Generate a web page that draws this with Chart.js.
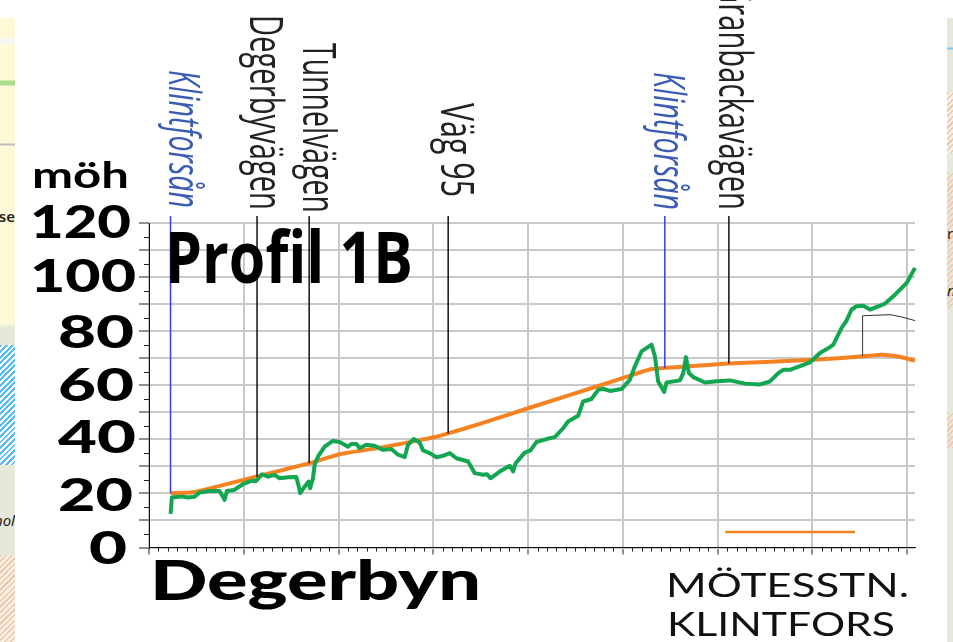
<!DOCTYPE html>
<html lang="sv">
<head>
<meta charset="utf-8">
<title>Profil 1B</title>
<script src="https://cdn.jsdelivr.net/npm/chart.js@4"></script>
<style>
  html, body { margin: 0; padding: 0; background: #fff; overflow: hidden; }
  #wrap { position: relative; width: 953px; height: 642px; }
  #chart-profile { position: absolute; left: 0; top: 0; }
  .map { position: absolute; top: 18px; height: 624px; overflow: hidden; }
  #map-left {
    left: 0; width: 15px;
    background:
      repeating-linear-gradient(135deg, #55bdf0 0 2px, #fff 2px 4px) 0 327px / 15px 120px no-repeat,
      repeating-linear-gradient(135deg, #ecc9ac 0 1.5px, #fbeee2 1.5px 4px) 0 537px / 15px 87px no-repeat,
      linear-gradient(#fef9d6 0, #fef9d6 20px, #f4f6f4 21px, #f4f6f4 25px, #fef9d6 26px, #fef9d6 62px, #a8dc8a 63px, #a8dc8a 67px, #fef9d6 68px, #fef9d6 125px, #bbb 126px, #bbb 127px, #fef9d6 128px, #fef9d6 305px, #e6e9da 310px, #e6e9da 624px);
  }
  #map-right {
    left: 947px; width: 6px;
    background:
      repeating-linear-gradient(135deg, #ecc9ac 0 1.5px, #f5efe4 1.5px 4px) 0 75px / 6px 60px no-repeat,
      repeating-linear-gradient(135deg, #ecc9ac 0 1.5px, #e9e6d8 1.5px 4px) 0 155px / 6px 135px no-repeat,
      repeating-linear-gradient(135deg, #ecc9ac 0 1.5px, #e9e6d8 1.5px 4px) 0 395px / 6px 35px no-repeat,
      linear-gradient(#e6e8da 0, #e6e8da 29px, #7cc8ea 30px, #7cc8ea 31px, #e6e8da 32px, #e6e8da 624px);
  }
  .frag { position: absolute; white-space: nowrap; color: #222; font-family: "Noto Sans", sans-serif; font-size: 15px; line-height: 18px; }
</style>
</head>
<body>
<div id="wrap">
  <div class="map" id="map-left">
    <span class="frag" style="right:0; top:189px; font-weight:600">use</span>
    <span class="frag" style="right:0; top:493px; font-style:italic">hol</span>
  </div>
  <div class="map" id="map-right">
    <span class="frag" style="left:0; top:206px">ro</span>
    <span class="frag" style="left:0; top:263px; font-style:italic">n,</span>
  </div>
  <canvas id="chart-profile" width="953" height="642"></canvas>
</div>
<script>
const terrainKm = [0.228, 0.241, 0.340, 0.410, 0.480, 0.533, 0.639, 0.744, 0.780, 0.797, 0.822, 0.900, 0.990, 1.080, 1.130, 1.195, 1.255, 1.326, 1.378, 1.466, 1.554, 1.572, 1.596, 1.642, 1.684, 1.700, 1.730, 1.748, 1.783, 1.853, 1.941, 2.012, 2.100, 2.135, 2.188, 2.223, 2.293, 2.380, 2.470, 2.557, 2.628, 2.698, 2.733, 2.793, 2.856, 2.892, 2.962, 3.033, 3.103, 3.173, 3.244, 3.367, 3.437, 3.525, 3.567, 3.603, 3.701, 3.807, 3.842, 3.870, 3.965, 4.025, 4.088, 4.194, 4.282, 4.370, 4.422, 4.528, 4.581, 4.669, 4.740, 4.792, 4.863, 4.986, 5.074, 5.127, 5.197, 5.303, 5.338, 5.373, 5.436, 5.461, 5.602, 5.638, 5.666, 5.697, 5.743, 5.866, 5.989, 6.130, 6.288, 6.447, 6.552, 6.640, 6.693, 6.763, 6.975, 7.080, 7.186, 7.221, 7.309, 7.362, 7.414, 7.467, 7.537, 7.608, 7.767, 7.872, 7.995, 8.083];
const terrainM = [12.4, 18.5, 18.9, 18.5, 18.8, 20.3, 20.9, 20.9, 18.8, 17.6, 20.9, 21.3, 23.4, 24.6, 24.6, 27.1, 26.2, 26.9, 25.6, 26.0, 26.1, 23.8, 20.1, 22.5, 24.4, 21.9, 25.6, 30.6, 33.6, 37.3, 39.4, 39.0, 37.3, 38.3, 38.3, 36.7, 38.0, 37.6, 36.1, 36.4, 34.3, 33.4, 38.0, 40.1, 38.8, 35.9, 34.9, 33.4, 33.9, 34.9, 33.0, 31.8, 27.5, 26.9, 27.1, 25.6, 28.1, 30.2, 28.1, 31.2, 35.1, 35.9, 39.0, 40.1, 40.8, 44.1, 46.6, 48.7, 54.0, 54.9, 58.3, 58.7, 57.9, 58.6, 62.0, 67.0, 72.5, 75.0, 70.7, 61.4, 57.5, 61.0, 61.8, 64.5, 70.4, 64.5, 63.0, 61.0, 61.5, 61.8, 60.6, 60.3, 61.4, 64.5, 65.7, 65.7, 68.5, 71.9, 74.1, 75.0, 81.2, 84.0, 88.0, 89.2, 89.4, 88.0, 90.2, 93.5, 97.8, 103.4];

const trackKm = [0.227, 0.463, 1.131, 1.695, 2.012, 2.470, 2.998, 3.139, 3.490, 4.000, 4.756, 5.109, 5.303, 5.690, 6.112, 7.010, 7.538, 7.732, 7.889, 8.083];
const trackM = [20.1, 20.4, 26.2, 31.2, 34.5, 37.1, 40.7, 42.0, 45.7, 51.5, 59.9, 63.9, 66.0, 67.0, 68.0, 69.4, 70.7, 71.3, 70.7, 69.1];

// vertical markers: name, chainage, where the line meets the track
const markerNames = ['Klintforsån', 'Degerbyvägen', 'Tunnelvägen', 'Väg 95', 'Klintforsån', 'Granbackavägen'];
const markerKm = [0.227, 1.140, 1.690, 3.157, 5.443, 6.119];
const markerFoot = [20.1, 26.2, 31.2, 42.2, 66.3, 68.0];
const markerTop = 122.6;

const bridgeKm = [7.53, 7.53, 7.82, 7.95, 8.083];
const bridgeM = [70.9, 85.7, 86.1, 85.2, 83.9];

const scaleBarKm = [6.08, 7.45];
const scaleBarM = [5.7, 5.7];

const yTicks = [0, 20, 40, 60, 80, 100, 120];

const GREY = '#c9c9c9';
const BLUE = '#3a3af0';
const TEXT_BLUE = '#3a5cb4';
const ORANGE = '#f58220';
const GREEN = '#12a650';

const toPoints = (xs, ys) => xs.map((x, i) => ({ x, y: ys[i] }));

const markerSets = markerNames.map((name, i) => ({
  label: name,
  data: toPoints([markerKm[i], markerKm[i]], [markerFoot[i], markerTop]),
  borderColor: name === 'Klintforsån' ? BLUE : '#111',
  borderWidth: 1.5,
  pointRadius: 0,
  clip: false
}));

// baseline x, end y and length of the rotated labels
const markerLayout = [
  { x: 169, end: 208, len: 138, italic: true },
  { x: 250, end: 210, len: 195 },
  { x: 303, end: 213, len: 170 },
  { x: 441, end: 197, len: 94 },
  { x: 654, end: 210, len: 138, italic: true },
  { x: 719, end: 210, len: 228 }
];

// tick label widths and baseline nudges, the digits are not evenly set
const tickLayout = {
  120: { right: 131, width: 101, dy: 15 },
  100: { right: 136, width: 106, dy: 15 },
  80: { right: 134, width: 76, dy: 17 },
  60: { right: 134, width: 76, dy: 16 },
  40: { right: 136, width: 78, dy: 14 },
  20: { right: 133, width: 75, dy: 18 },
  0: { right: 127, width: 38, dy: 16 }
};

function fitText(ctx, text, x, y, font, width, color) {
  ctx.save();
  ctx.font = font;
  ctx.fillStyle = color;
  ctx.textBaseline = 'alphabetic';
  ctx.textAlign = 'left';
  const w = ctx.measureText(text).width;
  ctx.translate(x, y);
  ctx.scale(width / w, 1);
  ctx.fillText(text, 0, 0);
  ctx.restore();
}

const minorTicks = {
  id: 'minorTicks',
  afterDatasetsDraw(chart) {
    const { ctx, scales: { x, y } } = chart;
    ctx.save();
    ctx.strokeStyle = '#222';
    ctx.lineWidth = 1;
    ctx.beginPath();
    for (let i = 1; i < 81; i++) {
      if (i % 10 === 0) continue;
      const px = Math.round(x.getPixelForValue(i / 10)) + 0.5;
      ctx.moveTo(px, y.bottom);
      ctx.lineTo(px, y.bottom + 4);
    }
    for (let v = 5; v < 120; v += 10) {
      const py = Math.round(y.getPixelForValue(v)) + 0.5;
      ctx.moveTo(x.left - 5, py);
      ctx.lineTo(x.left, py);
    }
    ctx.stroke();
    ctx.restore();
  }
};

const labels = {
  id: 'labels',
  afterDraw(chart) {
    const ctx = chart.ctx;
    const y = chart.scales.y;
    yTicks.forEach(v => {
      const t = tickLayout[v];
      fitText(ctx, String(v), t.right - t.width, y.getPixelForValue(v) + t.dy, '900 45px Lato', t.width, '#000');
    });
    markerNames.forEach((name, i) => {
      const l = markerLayout[i];
      ctx.save();
      ctx.translate(l.x, l.end - l.len);
      ctx.rotate(Math.PI / 2);
      const font = l.italic ? 'italic 44px "Open Sans"' : '46px "Open Sans"';
      fitText(ctx, name, 0, 0, font, l.len, l.italic ? TEXT_BLUE : '#222');
      ctx.restore();
    });
    fitText(ctx, 'möh', 32, 188, 'bold 36px Lato', 97, '#000');
    fitText(ctx, 'Profil 1B', 165, 283, '700 72px "Open Sans"', 248, '#000');
    fitText(ctx, 'Degerbyn', 150, 600, '900 56px Lato', 331, '#000');
    fitText(ctx, 'MÖTESSTN.', 666, 597, '32px Lato', 243, '#111');
    fitText(ctx, 'KLINTFORS', 667, 636, '32px Lato', 228, '#111');
  }
};

new Chart(document.getElementById('chart-profile'), {
  type: 'line',
  data: {
    datasets: [
      ...markerSets,
      { label: 'Bro', data: toPoints(bridgeKm, bridgeM), borderColor: '#333', borderWidth: 1, pointRadius: 0, clip: false },
      { label: 'Mark', data: toPoints(terrainKm, terrainM), borderColor: GREEN, borderWidth: 4, borderJoinStyle: 'round', pointRadius: 0, clip: false },
      { label: 'Spår', data: toPoints(trackKm, trackM), borderColor: ORANGE, borderWidth: 4, borderJoinStyle: 'round', pointRadius: 0, tension: 0.15, clip: false },
      { label: 'Skala', data: toPoints(scaleBarKm, scaleBarM), borderColor: ORANGE, borderWidth: 2.5, pointRadius: 0 }
    ]
  },
  options: {
    responsive: false,
    animation: false,
    layout: { padding: { top: 223, right: 38, bottom: 0, left: 0 } },
    plugins: {
      legend: { display: false },
      title: { display: false },
      tooltip: { enabled: false }
    },
    scales: {
      x: {
        type: 'linear',
        min: 0,
        max: 8.083,
        afterFit: s => { s.height = 642 - 547.5; },
        border: { color: '#111', width: 1 },
        grid: { color: GREY, lineWidth: 2, tickColor: '#222', tickWidth: 1, tickLength: 7 },
        ticks: { stepSize: 1, includeBounds: false, display: false }
      },
      y: {
        min: 0,
        max: 120,
        afterFit: s => { s.width = 149; },
        border: { color: '#111', width: 1 },
        grid: { color: GREY, lineWidth: 2, tickColor: '#222', tickWidth: 1, tickLength: 10 },
        ticks: { stepSize: 10, display: false }
      }
    }
  },
  plugins: [minorTicks, labels]
});
</script>
</body>
</html>
